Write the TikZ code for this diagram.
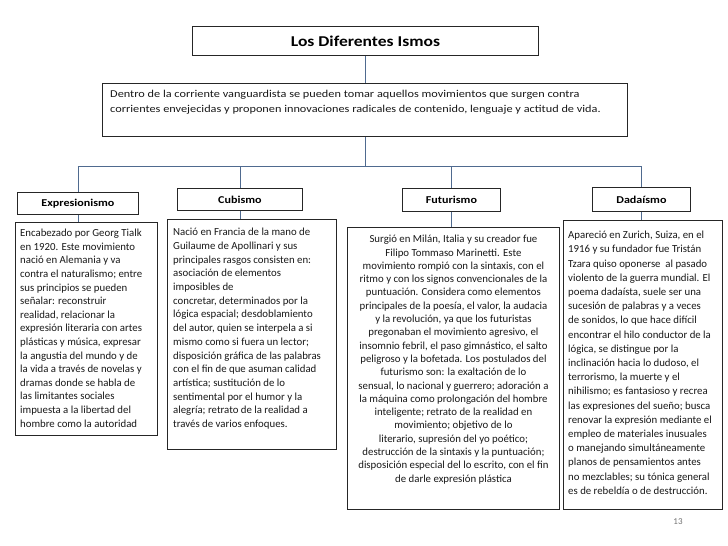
\documentclass[tikz,border=0pt]{standalone}
\usepackage{fontspec}
\setmainfont{Carlito}
\newfontfamily\widefont[FakeStretch=1.17]{Carlito}
\newfontfamily\headfont[FakeStretch=1.15]{Carlito}
\definecolor{linkc}{HTML}{4F6A8F}
\begin{document}
\begin{tikzpicture}[x=1pt,y=-1pt,
  box/.style={draw=black!85, line width=0.9pt, fill=white, inner sep=0pt},
  link/.style={draw=linkc, line width=0.8pt},
  body/.style={inner sep=0pt, align=left, text=black!90},
  head/.style={box, font=\headfont\bfseries\fontsize{10.5}{12}\selectfont}]
\useasboundingbox (0,0) rectangle (728,546);
\fill[white] (0,0) rectangle (728,546);

% title
\node[box, minimum width=346pt, minimum height=29pt, anchor=north west,
      font=\widefont\bfseries\fontsize{15}{18}\selectfont] (title) at (192,26) {Los Diferentes Ismos};
% intro
\node[box, minimum width=525pt, minimum height=53pt, anchor=north west] (intro) at (102,83) {};
\node[body, font=\widefont\fontsize{10.5}{15}\selectfont, anchor=north west] (introt) at (110,90)
  {Dentro de la corriente vanguardista se pueden tomar aquellos movimientos que surgen contra\\
   corrientes envejecidas y proponen innovaciones radicales de contenido, lenguaje y actitud de vida.};

% headers
\node[head, minimum width=121pt, minimum height=22pt, anchor=north west] (h1) at (17,192) {Expresionismo};
\node[head, minimum width=125pt, minimum height=22pt, anchor=north west] (h2) at (177,188) {Cubismo};
\node[head, minimum width=98pt, minimum height=23pt, anchor=north west] (h3) at (402,188) {Futurismo};
\node[head, minimum width=98pt, minimum height=24pt, anchor=north west] (h4) at (592,187) {Dadaísmo};

% content boxes
\node[box, minimum width=142pt, minimum height=213pt, anchor=north west] (b1) at (15,222) {};
\node[box, minimum width=169pt, minimum height=230pt, anchor=north west] (b2) at (167,219) {};
\node[box, minimum width=212pt, minimum height=282pt, anchor=north west] (b3) at (347,227) {};
\node[box, minimum width=159pt, minimum height=289pt, anchor=north west] (b4) at (563,220) {};

\node[body, font=\fontsize{10.8}{13.6}\selectfont, anchor=north west] (t1) at ([xshift=5pt,yshift=-7pt]b1.north west)
  {Encabezado por Georg Tialk\\
   en 1920. Este movimiento\\
   nació en Alemania y va\\
   contra el naturalismo; entre\\
   sus principios se pueden\\
   señalar: reconstruir\\
   realidad, relacionar la\\
   expresión literaria con artes\\
   plásticas y música, expresar\\
   la angustia del mundo y de\\
   la vida a través de novelas y\\
   dramas donde se habla de\\
   las limitantes sociales\\
   impuesta a la libertad del\\
   hombre como la autoridad};

\node[body, font=\fontsize{10.8}{13.7}\selectfont, anchor=north west] (t2) at ([xshift=6pt,yshift=-9pt]b2.north west)
  {Nació en Francia de la mano de\\
   Guilaume de Apollinari y sus\\
   principales rasgos consisten en:\\
   asociación de elementos\\
   imposibles de\\
   concretar, determinados por la\\
   lógica espacial; desdoblamiento\\
   del autor, quien se interpela a si\\
   mismo como si fuera un lector;\\
   disposición gráfica de las palabras\\
   con el fin de que asuman calidad\\
   artística; sustitución de lo\\
   sentimental por el humor y la\\
   alegría; retrato de la realidad a\\
   través de varios enfoques.};

\node[body, font=\fontsize{10.8}{13.3}\selectfont, align=center, anchor=north] (t3) at ([yshift=-8pt]b3.north)
  {Surgió en Milán, Italia y su creador fue\\
   Filipo Tommaso Marinetti. Este\\
   movimiento rompió con la sintaxis, con el\\
   ritmo y con los signos convencionales de la\\
   puntuación. Considera como elementos\\
   principales de la poesía, el valor, la audacia\\
   y la revolución, ya que los futuristas\\
   pregonaban el movimiento agresivo, el\\
   insomnio febril, el paso gimnástico, el salto\\
   peligroso y la bofetada. Los postulados del\\
   futurismo son: la exaltación de lo\\
   sensual, lo nacional y guerrero; adoración a\\
   la máquina como prolongación del hombre\\
   inteligente; retrato de la realidad en\\
   movimiento; objetivo de lo\\
   literario, supresión del yo poético;\\
   destrucción de la sintaxis y la puntuación;\\
   disposición especial del lo escrito, con el fin\\
   de darle expresión plástica};

\node[body, font=\fontsize{10.8}{14.2}\selectfont, anchor=north west] (t4) at ([xshift=5pt,yshift=-11pt]b4.north west)
  {Apareció en Zurich, Suiza, en el\\
   1916 y su fundador fue Tristán\\
   Tzara quiso oponerse \ al pasado\\
   violento de la guerra mundial. El\\
   poema dadaísta, suele ser una\\
   sucesión de palabras y a veces\\
   de sonidos, lo que hace difícil\\
   encontrar el hilo conductor de la\\
   lógica, se distingue por la\\
   inclinación hacia lo dudoso, el\\
   terrorismo, la muerte y el\\
   nihilismo; es fantasioso y recrea\\
   las expresiones del sueño; busca\\
   renovar la expresión mediante el\\
   empleo de materiales inusuales\\
   o manejando simultáneamente\\
   planos de pensamientos antes\\
   no mezclables; su tónica general\\
   es de rebeldía o de destrucción.};

% page number
\node[font=\fontsize{9}{11}\selectfont, text=black!55] (pn) at (678,522) {13};

% connectors
\coordinate (j) at (intro.south |- 0,166);
\draw[link] (title.south) -- (title.south |- intro.north);
\draw[link] (intro.south) -- (j);
\draw[link] (h1.north |- j) -- (h4.north |- j);
\foreach \h in {h1,h2,h3,h4} \draw[link] (\h.north |- j) -- (\h.north);
\draw[link] (h1.south) -- (h1.south |- b1.north);
\draw[link] (h2.south) -- (h2.south |- b2.north);
\draw[link] (h3.south) -- (h3.south |- b3.north);
\draw[link] (h4.south) -- (h4.south |- b4.north);
\end{tikzpicture}
\end{document}
